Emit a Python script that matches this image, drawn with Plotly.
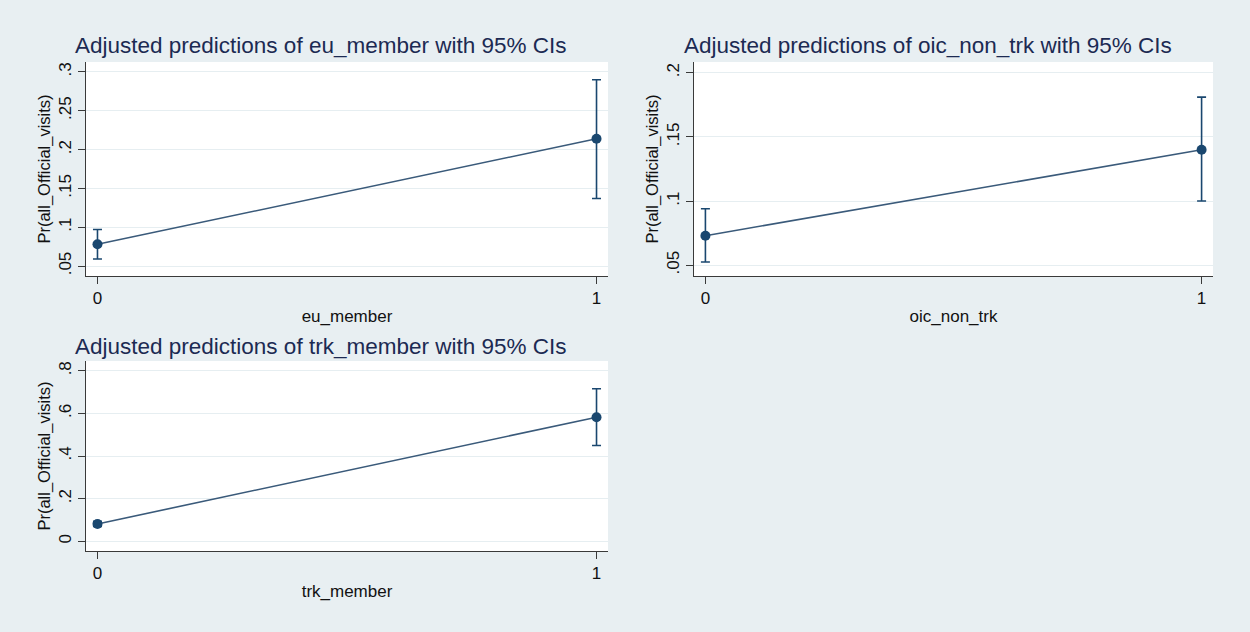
import plotly.graph_objects as go

# ---------------- data ----------------
x_levels = [0, 1]
x_tick_labels = ["0", "1"]

eu_margin = [0.078, 0.214]
eu_lower = [0.059, 0.137]
eu_upper = [0.097, 0.290]

oic_margin = [0.073, 0.140]
oic_lower = [0.0525, 0.100]
oic_upper = [0.094, 0.181]

trk_margin = [0.081, 0.582]
trk_lower = [0.069, 0.449]
trk_upper = [0.093, 0.716]

eu_ticks = [0.05, 0.1, 0.15, 0.2, 0.25, 0.3]
eu_tick_labels = [".05", ".1", ".15", ".2", ".25", ".3"]
oic_ticks = [0.05, 0.1, 0.15, 0.2]
oic_tick_labels = [".05", ".1", ".15", ".2"]
trk_ticks = [0, 0.2, 0.4, 0.6, 0.8]
trk_tick_labels = ["0", ".2", ".4", ".6", ".8"]

titles = [
    "Adjusted predictions of eu_member with 95% CIs",
    "Adjusted predictions of oic_non_trk with 95% CIs",
    "Adjusted predictions of trk_member with 95% CIs",
]
x_titles = ["eu_member", "oic_non_trk", "trk_member"]
y_title = "Pr(all_Official_visits)"

# ---------------- styling ----------------
W, H = 1250, 632
BG = "#e8eff2"
NAVY = "#1a476f"
LINE = "#3a5a7a"
TITLE_C = "#1c2a52"
AX_C = "#3a3a3a"
GRID_C = "#e6eef1"
FONT = "Liberation Sans, Arial, sans-serif"

# pixel boxes: (left, right, top, bottom)
boxes = [(86, 608, 62, 276), (694, 1213, 62, 276), (86, 608, 361, 551)]
title_pos = [(321, 46), (928, 46), (321, 346)]
y_ranges = [(0.0372, 0.3128), (0.0416, 0.2084), (-0.046, 0.846)]
x_range = [-0.023, 1.023]

series = [
    (eu_margin, eu_lower, eu_upper, eu_ticks, eu_tick_labels),
    (oic_margin, oic_lower, oic_upper, oic_ticks, oic_tick_labels),
    (trk_margin, trk_lower, trk_upper, trk_ticks, trk_tick_labels),
]

fig = go.Figure()
layout = dict(
    width=W, height=H,
    margin=dict(l=0, r=0, t=0, b=0),
    paper_bgcolor=BG,
    plot_bgcolor="white",
    showlegend=False,
    font=dict(family=FONT, color="#111", size=16),
    annotations=[],
)

for i, (m, lo, hi, tv, tt) in enumerate(series):
    n = "" if i == 0 else str(i + 1)
    xa, ya = "x" + n, "y" + n
    err_plus = [h - v for h, v in zip(hi, m)]
    err_minus = [v - l for v, l in zip(m, lo)]
    fig.add_trace(go.Scatter(
        x=x_levels, y=m, xaxis=xa, yaxis=ya,
        mode="lines+markers",
        line=dict(color=LINE, width=1.6),
        marker=dict(color=NAVY, size=10, symbol="circle"),
        error_y=dict(type="data", symmetric=False, array=err_plus, arrayminus=err_minus,
                     color=NAVY, thickness=1.6, width=4.5),
        hoverinfo="skip",
    ))
    l, r, t, b = boxes[i]
    layout["xaxis" + n] = dict(
        domain=[l / W, r / W], anchor=ya, range=x_range,
        tickvals=x_levels, ticktext=x_tick_labels,
        ticks="outside", ticklen=7, tickcolor=AX_C, tickwidth=1,
        showline=True, linecolor=AX_C, linewidth=1,
        showgrid=False, zeroline=False,
        tickfont=dict(size=17, color="#111"),
        title=dict(text=x_titles[i], font=dict(size=17, color="#111"), standoff=2),
    )
    layout["yaxis" + n] = dict(
        domain=[1 - b / H, 1 - t / H], anchor=xa, range=list(y_ranges[i]),
        tickvals=tv, ticktext=tt, tickangle=-90,
        ticks="outside", ticklen=7, tickcolor=AX_C, tickwidth=1,
        showline=True, linecolor=AX_C, linewidth=1,
        showgrid=True, gridcolor=GRID_C, gridwidth=1.2, zeroline=False,
        tickfont=dict(size=17, color="#111"),
        title=dict(text=y_title, font=dict(size=16.5, color="#111"), standoff=1),
    )
    tx, ty = title_pos[i]
    layout["annotations"].append(dict(
        text=titles[i], x=tx / W, y=1 - ty / H, xref="paper", yref="paper",
        xanchor="center", yanchor="middle", showarrow=False,
        font=dict(size=22.5, color=TITLE_C, family=FONT),
    ))

fig.update_layout(**layout)
fig.write_html(
    "out.html",
    config={"displayModeBar": False},
    post_script="document.body.style.margin='0px';document.body.style.background='%s';" % BG,
)
